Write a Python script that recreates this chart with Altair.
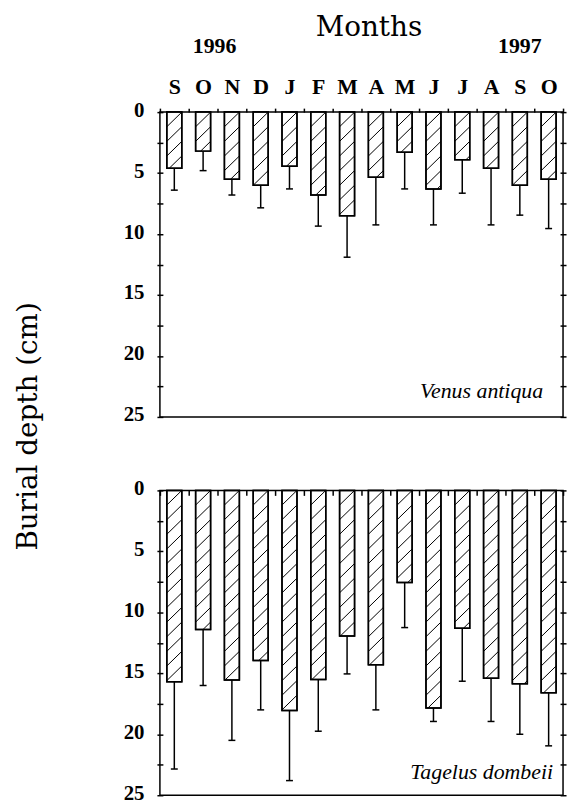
import altair as alt
import pandas as pd

# ---- data ----
months = ["S", "O", "N", "D", "J", "F", "M", "A", "M", "J", "J", "A", "S", "O"]
years = ["1996", "1997"]
year_anchor = [1.4, 12.0]  # month index over which each year label sits

venus_mean = [4.6, 3.2, 5.5, 6.0, 4.45, 6.8, 8.5, 5.35, 3.3, 6.3, 3.9, 4.6, 6.0, 5.5]
venus_sd = [1.8, 1.6, 1.3, 1.85, 1.85, 2.55, 3.4, 3.9, 3.0, 2.95, 2.75, 4.65, 2.45, 4.05]

tagelus_mean = [15.7, 11.4, 15.55, 13.95, 18.05, 15.5, 11.95, 14.3, 7.55, 17.85, 11.3, 15.4, 15.85, 16.6]
tagelus_sd = [7.15, 4.6, 4.95, 4.05, 5.75, 4.25, 3.1, 3.7, 3.7, 1.1, 4.35, 3.55, 4.15, 4.35]

depth_ticks = [0, 2.5, 5, 7.5, 10, 12.5, 15, 17.5, 20, 22.5, 25]
month_ticks = [-0.5 + 0.5 * k for k in range(29)]

# ---- styling constants ----
HW = 0.26      # half bar width (month units)
CAP = 0.12     # half cap width
HATCH = 1.2    # hatch spacing / rise (cm)
W, H = 406, 307
BOLD = "Liberation Serif"
SERIF = "DejaVu Serif"


def bar_frame(means, sds):
    rows = []
    for i, (m, s) in enumerate(zip(means, sds)):
        rows.append(dict(i=i, top=0.0, mean=m, end=m + s,
                         xl=i - HW, xr=i + HW, cl=i - CAP, cr=i + CAP))
    return pd.DataFrame(rows)


def hatch_frame(means):
    rows = []
    w = 2 * HW
    for i, v in enumerate(means):
        xl = i - HW
        k = 1
        while k * HATCH - HATCH < v:
            c = k * HATCH
            tmin = max(0.0, (c - v) * w / HATCH)
            tmax = min(w, c * w / HATCH)
            if tmin < tmax:
                rows.append(dict(x1=xl + tmin, y1=c - HATCH * tmin / w,
                                 x2=xl + tmax, y2=c - HATCH * tmax / w))
            k += 1
    return pd.DataFrame(rows)


month_js = "[" + ",".join("'" + m + "'" for m in months) + "]"
month_expr = "datum.value % 1 === 0 ? " + month_js + "[datum.value] : ''"


def panel(means, sds, species, top, sp_dx, sp_dy):
    bdf = bar_frame(means, sds)
    hdf = hatch_frame(means)
    xs = alt.Scale(domain=[-0.5, 13.5], nice=False, zero=False)
    ys = alt.Scale(domain=[0, 25], reverse=True, nice=False, zero=False)

    if top:
        x_axis = alt.Axis(
            orient="top", values=month_ticks, grid=False, domain=False,
            tickSize=4, offset=0,
            tickColor="black", tickWidth=1.5,
            tickOpacity={"condition": {"test": "datum.value % 1 === 0", "value": 0}, "value": 1},
            labelExpr=month_expr,
            labelFont=BOLD, labelFontWeight="bold", labelFontSize=22, labelColor="black",
            labelPadding=10, labelFlush=False, labelOverlap=False,
            title="Months", titleX=W / 2 + 7,
            titleFont=SERIF, titleFontWeight="normal", titleFontSize=28, titleColor="black",
            titlePadding=34,
        )
    else:
        x_axis = alt.Axis(
            orient="top", values=month_ticks, grid=False, domain=False,
            tickSize=5, offset=-5, tickColor="black", tickWidth=1.5,
            tickOpacity={"condition": {"test": "datum.value % 1 === 0", "value": 0}, "value": 1},
            labels=False, title=None,
        )
    y_left = alt.Axis(
        orient="left", values=depth_ticks, grid=False, domain=False,
        tickSize=6, offset=-3, tickColor="black", tickWidth=1.5,
        labelExpr="datum.value % 5 === 0 ? format(datum.value, 'd') : ''",
        labelFont=BOLD, labelFontWeight="bold", labelFontSize=21, labelColor="black",
        labelPadding=13, labelOffset=-2, labelFlush=False, labelOverlap=False, title=None,
    )
    y_right = alt.Axis(
        orient="right", values=depth_ticks, grid=False, domain=False,
        tickSize=6, offset=-3, tickColor="black", tickWidth=1.5,
        labels=False, title=None,
    )

    base = alt.Chart(bdf)
    bars = base.mark_rect(fill="white", stroke="black", strokeWidth=1.5).encode(
        x=alt.X("xl:Q", scale=xs, axis=x_axis), x2="xr:Q",
        y=alt.Y("top:Q", scale=ys, axis=y_left), y2="mean:Q",
    )
    hatch = alt.Chart(hdf).mark_rule(color="black", strokeWidth=1).encode(
        x=alt.X("x1:Q", scale=xs, axis=None), x2="x2:Q",
        y=alt.Y("y1:Q", scale=ys, axis=None), y2="y2:Q",
    )
    outline = base.mark_rect(fill=None, stroke="black", strokeWidth=1.5).encode(
        x=alt.X("xl:Q", scale=xs, axis=None), x2="xr:Q",
        y=alt.Y("top:Q", scale=ys, axis=None), y2="mean:Q",
    )
    err = base.mark_rule(color="black", strokeWidth=1.5).encode(
        x=alt.X("i:Q", scale=xs, axis=None),
        y=alt.Y("mean:Q", scale=ys, axis=y_right), y2="end:Q",
    )
    caps = base.mark_rule(color="black", strokeWidth=1.5).encode(
        x=alt.X("cl:Q", scale=xs, axis=None), x2="cr:Q",
        y=alt.Y("end:Q", scale=ys, axis=None),
    )
    label = alt.Chart(pd.DataFrame({"t": [species]})).mark_text(
        align="right", baseline="middle", dx=sp_dx, dy=sp_dy,
        font="Liberation Serif", fontStyle="italic", fontSize=22, color="black",
    ).encode(
        x=alt.XDatum(13.5, scale=xs, axis=None),
        y=alt.YDatum(25, scale=ys, axis=None),
        text="t:N",
    )
    layers = [bars, hatch, outline, err, caps, label]
    if top:
        yr = alt.Chart(pd.DataFrame({"year": years, "pos": year_anchor})).mark_text(
            baseline="middle", font=BOLD, fontWeight="bold", fontSize=22, color="black",
        ).encode(
            x=alt.X("pos:Q", scale=xs, axis=None),
            y=alt.value(-67),
            text="year:N",
        )
        layers.append(yr)
    return alt.layer(*layers).resolve_axis(x="independent", y="independent").properties(
        width=W, height=H
    )


top_panel = panel(venus_mean, venus_sd, "Venus antiqua", True, -20, -26)
bottom_panel = panel(tagelus_mean, tagelus_sd, "Tagelus dombeii", False, -10, -23)

chart = alt.vconcat(top_panel, bottom_panel, spacing=51).properties(
    title=alt.TitleParams(
        "Burial depth (cm)", orient="left", anchor="middle",
        font=SERIF, fontSize=28, fontWeight="normal", color="black", offset=80, dx=-18,
    ),
    padding={"left": 7, "top": 2, "right": 0, "bottom": 0},
    background="white",
).configure_view(stroke="black", strokeWidth=1.5)

chart.save("out.html", embed_options={"renderer": "svg", "actions": False})
